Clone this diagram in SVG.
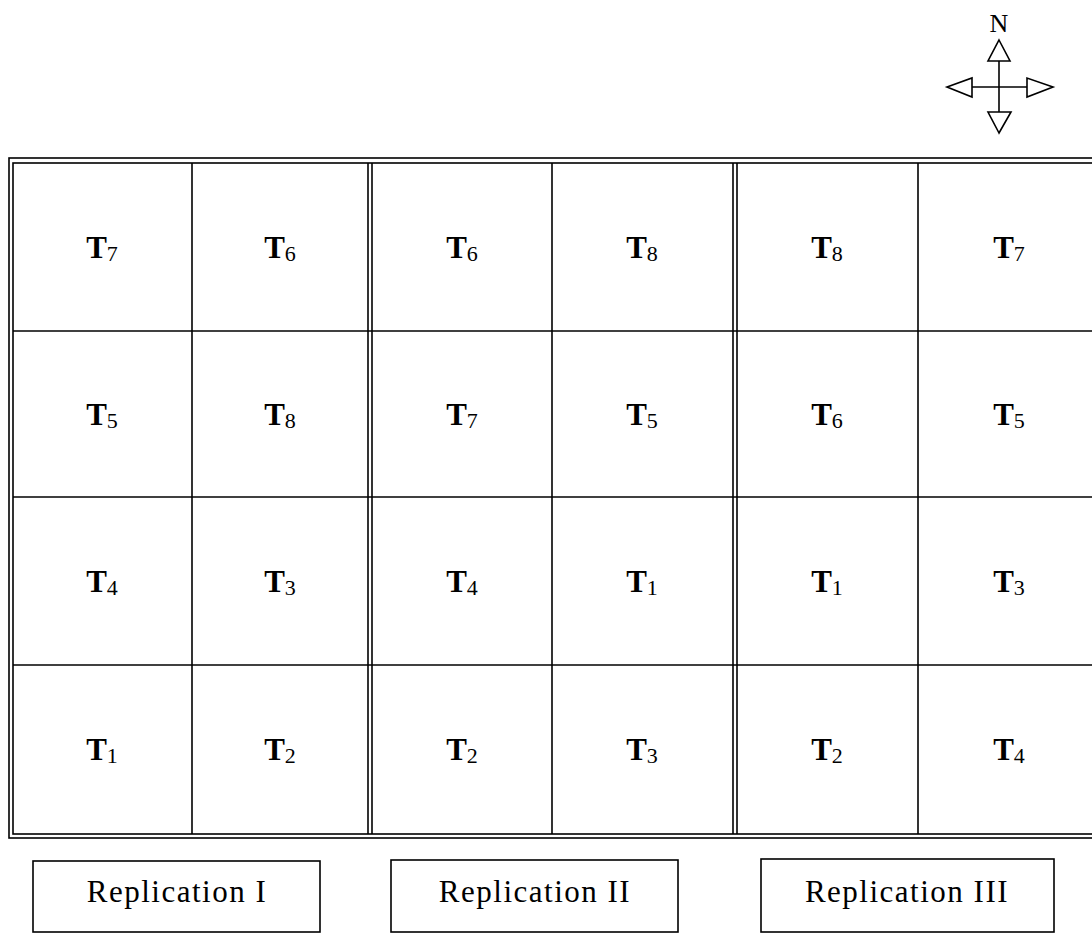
<svg xmlns="http://www.w3.org/2000/svg" width="1092" height="933" viewBox="0 0 1092 933">
  <style>
    .ln { stroke: #000; stroke-width: 1.6; fill: none; }
    .arw { stroke: #000; stroke-width: 1.6; fill: #fff; stroke-linejoin: miter; }
    .t { font-family: "Liberation Serif", "Times New Roman", serif; font-size: 31px; font-weight: bold; fill: #000; text-anchor: middle; }
    .sub { font-size: 22px; font-weight: normal; }
    .rep { font-family: "Liberation Serif", "Times New Roman", serif; font-size: 31px; letter-spacing: 1.5px; fill: #000; text-anchor: middle; }
    .n { font-family: "Liberation Serif", "Times New Roman", serif; font-size: 26px; fill: #000; text-anchor: middle; }
  </style>
  <rect width="1092" height="933" fill="#fff"/>

  <!-- north compass -->
  <g id="compass">
    <text class="n" x="999" y="32">N</text>
    <line class="ln" x1="999" y1="61" x2="999" y2="112"/>
    <line class="ln" x1="972" y1="87" x2="1027" y2="87"/>
    <polygon class="arw" points="999,40 1010,61 988,61"/>
    <polygon class="arw" points="999,133 988,112 1011,112"/>
    <polygon class="arw" points="947,87 972,78 972,97"/>
    <polygon class="arw" points="1053,87 1027,78 1027,97"/>
  </g>

  <!-- field layout: double frame, plot grid, replication dividers -->
  <g id="grid">
    <rect class="ln" x="9" y="158" width="1100" height="680"/>
    <rect class="ln" x="13" y="163" width="1100" height="671"/>
    <line class="ln" x1="13" y1="331" x2="1092" y2="331"/>
    <line class="ln" x1="13" y1="497" x2="1092" y2="497"/>
    <line class="ln" x1="13" y1="665" x2="1092" y2="665"/>
    <line class="ln" x1="192" y1="163" x2="192" y2="834"/>
    <line class="ln" x1="368" y1="163" x2="368" y2="834"/>
    <line class="ln" x1="372" y1="163" x2="372" y2="834"/>
    <line class="ln" x1="552" y1="163" x2="552" y2="834"/>
    <line class="ln" x1="733" y1="163" x2="733" y2="834"/>
    <line class="ln" x1="737" y1="163" x2="737" y2="834"/>
    <line class="ln" x1="918" y1="163" x2="918" y2="834"/>
  </g>

  <!-- plots, row 1 (north) -->
  <g id="p-r1c1"><text class="t" x="102" y="258">T<tspan class="sub" dy="3">7</tspan></text></g>
  <g id="p-r1c2"><text class="t" x="280" y="258">T<tspan class="sub" dy="3">6</tspan></text></g>
  <g id="p-r1c3"><text class="t" x="462" y="258">T<tspan class="sub" dy="3">6</tspan></text></g>
  <g id="p-r1c4"><text class="t" x="642" y="258">T<tspan class="sub" dy="3">8</tspan></text></g>
  <g id="p-r1c5"><text class="t" x="827" y="258">T<tspan class="sub" dy="3">8</tspan></text></g>
  <g id="p-r1c6"><text class="t" x="1009" y="258">T<tspan class="sub" dy="3">7</tspan></text></g>

  <!-- row 2 -->
  <g id="p-r2c1"><text class="t" x="102" y="425">T<tspan class="sub" dy="3">5</tspan></text></g>
  <g id="p-r2c2"><text class="t" x="280" y="425">T<tspan class="sub" dy="3">8</tspan></text></g>
  <g id="p-r2c3"><text class="t" x="462" y="425">T<tspan class="sub" dy="3">7</tspan></text></g>
  <g id="p-r2c4"><text class="t" x="642" y="425">T<tspan class="sub" dy="3">5</tspan></text></g>
  <g id="p-r2c5"><text class="t" x="827" y="425">T<tspan class="sub" dy="3">6</tspan></text></g>
  <g id="p-r2c6"><text class="t" x="1009" y="425">T<tspan class="sub" dy="3">5</tspan></text></g>

  <!-- row 3 -->
  <g id="p-r3c1"><text class="t" x="102" y="592">T<tspan class="sub" dy="3">4</tspan></text></g>
  <g id="p-r3c2"><text class="t" x="280" y="592">T<tspan class="sub" dy="3">3</tspan></text></g>
  <g id="p-r3c3"><text class="t" x="462" y="592">T<tspan class="sub" dy="3">4</tspan></text></g>
  <g id="p-r3c4"><text class="t" x="642" y="592">T<tspan class="sub" dy="3">1</tspan></text></g>
  <g id="p-r3c5"><text class="t" x="827" y="592">T<tspan class="sub" dy="3">1</tspan></text></g>
  <g id="p-r3c6"><text class="t" x="1009" y="592">T<tspan class="sub" dy="3">3</tspan></text></g>

  <!-- row 4 (south) -->
  <g id="p-r4c1"><text class="t" x="102" y="760">T<tspan class="sub" dy="3">1</tspan></text></g>
  <g id="p-r4c2"><text class="t" x="280" y="760">T<tspan class="sub" dy="3">2</tspan></text></g>
  <g id="p-r4c3"><text class="t" x="462" y="760">T<tspan class="sub" dy="3">2</tspan></text></g>
  <g id="p-r4c4"><text class="t" x="642" y="760">T<tspan class="sub" dy="3">3</tspan></text></g>
  <g id="p-r4c5"><text class="t" x="827" y="760">T<tspan class="sub" dy="3">2</tspan></text></g>
  <g id="p-r4c6"><text class="t" x="1009" y="760">T<tspan class="sub" dy="3">4</tspan></text></g>

  <!-- replication labels -->
  <g id="rep1">
    <rect class="ln" x="33" y="861" width="287" height="71"/>
    <text class="rep" x="177" y="902">Replication I</text>
  </g>
  <g id="rep2">
    <rect class="ln" x="391" y="860" width="287" height="72"/>
    <text class="rep" x="535" y="902">Replication II</text>
  </g>
  <g id="rep3">
    <rect class="ln" x="761" y="859" width="293" height="73"/>
    <text class="rep" x="907" y="902">Replication III</text>
  </g>

  <g id="connectors"></g>
</svg>
